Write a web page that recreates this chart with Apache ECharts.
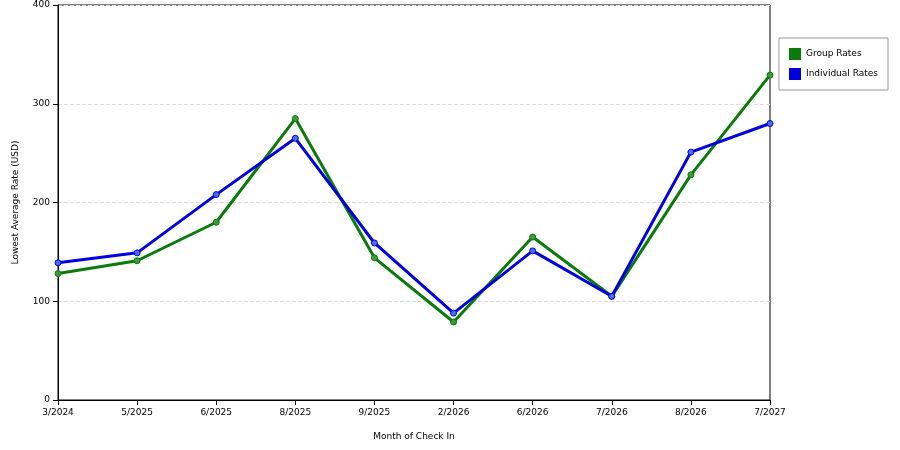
<!DOCTYPE html>
<html><head><meta charset="utf-8">
<script src="https://cdn.jsdelivr.net/npm/echarts@6/dist/echarts.min.js"></script>
<style>html,body{margin:0;background:#fff}#c{width:900px;height:450px}</style>
</head><body><div id="c"></div>
<script>
const categories = ['3/2024','5/2025','6/2025','8/2025','9/2025','2/2026','6/2026','7/2026','8/2026','7/2027'];
const groupRates = [128,141,180,285,144,79,165,105,228,329];
const individualRates = [139,149,208,265,159,88,151,105,251,280];
const yTicks = [0,100,200,300,400];

const chart = echarts.init(document.getElementById('c'));
const ff = 'DejaVu Sans';
chart.setOption({
  animation:false,
  textStyle:{fontFamily:ff},
  grid:{left:58,right:130,top:5,bottom:50,show:true,borderColor:'#000',borderWidth:1},
  legend:{orient:'vertical',right:12,top:38,itemWidth:12,itemHeight:12,itemGap:8,
    icon:'rect',borderColor:'#999',borderWidth:1,padding:[10,10,10,10],
    itemStyle:{borderWidth:0},
    textStyle:{fontSize:9,color:'#000'},
    data:[{name:'Group Rates',itemStyle:{color:'#0a7a0a'}},{name:'Individual Rates',itemStyle:{color:'#0000e0'}}]},
  xAxis:{type:'category',data:categories,boundaryGap:false,name:'Month of Check In',
    nameLocation:'middle',nameGap:32,nameTextStyle:{fontSize:9,color:'#000'},
    axisLine:{lineStyle:{color:'#000'}},axisTick:{show:true,alignWithLabel:true,lineStyle:{color:'#000'}},
    axisLabel:{fontSize:9,color:'#000',margin:8,showMinLabel:true,showMaxLabel:true,interval:0},splitLine:{show:false}},
  yAxis:{type:'value',min:0,max:400,interval:100,name:'Lowest Average Rate (USD)',
    nameLocation:'middle',nameGap:38,nameTextStyle:{fontSize:9,color:'#000'},
    axisLine:{show:true,lineStyle:{color:'#000'}},axisTick:{show:true,lineStyle:{color:'#000'}},
    axisLabel:{fontSize:9,color:'#000'},
    splitLine:{show:true,lineStyle:{color:'#ddd',type:'dashed'}}},
  series:[
    {name:'Group Rates',type:'line',data:groupRates,color:'#0a7a0a',
     lineStyle:{width:3,color:'#0a7a0a'},symbol:'circle',symbolSize:6,
     itemStyle:{color:'#3c9a3c',borderColor:'#0a7a0a',borderWidth:1}},
    {name:'Individual Rates',type:'line',data:individualRates,color:'#0000e0',
     lineStyle:{width:3,color:'#0000e0'},symbol:'circle',symbolSize:6,
     itemStyle:{color:'#4a6ef0',borderColor:'#0000e0',borderWidth:1}}
  ]
});
</script></body></html>
